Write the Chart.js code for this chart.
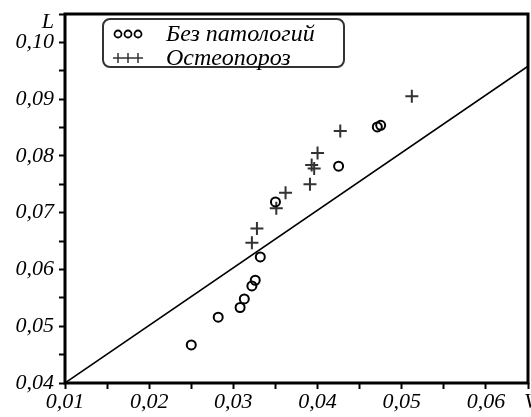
<!DOCTYPE html>
<html>
<head>
<meta charset="utf-8">
<script src="https://cdn.jsdelivr.net/npm/chart.js@4/dist/chart.umd.min.js"></script>
<style>
  html, body { margin: 0; padding: 0; background: #fff; }
  #wrap { width: 531px; height: 417px; }
</style>
</head>
<body>
<div id="wrap"><canvas id="chartVL"></canvas></div>
<script>
// Без патологий (circles)
const normV = [0.0250, 0.0282, 0.0308, 0.0313, 0.0322, 0.0326, 0.0332, 0.0350, 0.0425, 0.0471, 0.0475];
const normL = [0.0467, 0.0516, 0.0533, 0.0548, 0.0571, 0.0581, 0.0622, 0.0719, 0.0782, 0.0851, 0.0854];
// Остеопороз (crosses)
const osteoV = [0.0322, 0.0328, 0.0351, 0.0362, 0.0391, 0.0393, 0.0396, 0.0400, 0.0427, 0.0512];
const osteoL = [0.0647, 0.0672, 0.0708, 0.0735, 0.0750, 0.0784, 0.0778, 0.0805, 0.0844, 0.0905];
// dividing line
const lineV = [0.01, 0.065];
const lineL = [0.04, 0.0958];

const xTickValues = [0.01, 0.015, 0.02, 0.025, 0.03, 0.035, 0.04, 0.045, 0.05, 0.055, 0.06, 0.065];
const xTickLabels = ["0,01", "", "0,02", "", "0,03", "", "0,04", "", "0,05", "", "0,06", ""];
const yTickValues = [0.04, 0.045, 0.05, 0.055, 0.06, 0.065, 0.07, 0.075, 0.08, 0.085, 0.09, 0.095, 0.10, 0.105];
const yTickLabels = ["0,04", "", "0,05", "", "0,06", "", "0,07", "", "0,08", "", "0,09", "", "0,10", ""];
const xTitle = "V", yTitle = "L";

const toPts = (xs, ys) => xs.map((v, i) => ({ x: v, y: ys[i] }));
const tickFont = { family: "'Liberation Serif', serif", style: "italic", size: 22 };

const framePlugin = {
  id: "frame",
  afterDatasetsDraw(chart) {
    const { ctx, chartArea: a } = chart;
    ctx.save();
    ctx.strokeStyle = "#000";
    ctx.lineWidth = 3;
    ctx.strokeRect(a.left, a.top, a.right - a.left, a.bottom - a.top);
    ctx.restore();
  },
  afterDraw(chart) {
    const { ctx, chartArea: a } = chart;
    ctx.save();
    ctx.fillStyle = "#000";
    ctx.font = "italic 22px 'Liberation Serif', serif";
    ctx.textAlign = "right";
    ctx.textBaseline = "alphabetic";
    ctx.fillText(yTitle, a.left - 11, a.top + 14);
    ctx.textAlign = "left";
    ctx.fillText(xTitle, a.right - 4, a.bottom + 25);

    // legend box
    const bx = 103, by = 19, bw = 241, bh = 48;
    ctx.lineWidth = 2;
    ctx.strokeStyle = "#333";
    ctx.beginPath();
    ctx.roundRect(bx, by, bw, bh, 7);
    ctx.stroke();
    ctx.font = "italic 24px 'Liberation Serif', serif";
    const rows = [
      { ds: chart.data.datasets[0], y: by + 15 },
      { ds: chart.data.datasets[1], y: by + 39 }
    ];
    rows.forEach(r => {
      const isCross = r.ds.pointStyle === "cross";
      for (let k = 0; k < 3; k++) {
        ctx.fillStyle = "rgba(0,0,0,0)";
        ctx.strokeStyle = r.ds.borderColor;
        ctx.lineWidth = isCross ? 1.5 : 1.8;
        Chart.helpers.drawPoint(ctx, {
          pointStyle: r.ds.pointStyle,
          radius: isCross ? 5 : 3.5,
          borderWidth: ctx.lineWidth
        }, bx + 15 + k * 10, r.y);
      }
      ctx.fillStyle = "#000";
      ctx.textAlign = "left";
      ctx.textBaseline = "middle";
      ctx.fillText(r.ds.label, bx + 63, r.y + 1);
    });
    ctx.restore();
  }
};

new Chart(document.getElementById("chartVL"), {
  type: "scatter",
  data: {
    datasets: [
      {
        label: "Без патологий",
        data: toPts(normV, normL),
        pointStyle: "circle",
        pointRadius: 4.5,
        borderWidth: 2,
        borderColor: "#000",
        backgroundColor: "rgba(0,0,0,0)"
      },
      {
        label: "Остеопороз",
        data: toPts(osteoV, osteoL),
        pointStyle: "cross",
        pointRadius: 6.5,
        borderWidth: 2,
        borderColor: "#333",
        backgroundColor: "#333"
      },
      {
        type: "line",
        label: "line",
        data: toPts(lineV, lineL),
        borderColor: "#000",
        borderWidth: 1.5,
        pointRadius: 0,
        fill: false
      }
    ]
  },
  options: {
    responsive: true,
    maintainAspectRatio: false,
    animation: false,
    events: [],
    layout: { autoPadding: false, padding: { left: 0, top: 14, right: 3, bottom: 0 } },
    plugins: { legend: { display: false }, tooltip: { enabled: false } },
    scales: {
      x: {
        type: "linear",
        min: 0.01,
        max: 0.065,
        afterBuildTicks: s => { s.ticks = xTickValues.map(v => ({ value: v })); },
        afterFit: s => { s.height = 34; s.paddingLeft = 0; s.paddingRight = 0; },
        ticks: {
          autoSkip: false,
          maxRotation: 0,
          color: "#000",
          font: tickFont,
          padding: 0,
          callback: (v, i) => xTickLabels[i]
        },
        grid: { drawOnChartArea: false, drawTicks: true, tickLength: 6, tickWidth: 2, tickColor: "#000" },
        border: { display: false }
      },
      y: {
        type: "linear",
        min: 0.04,
        max: 0.105,
        afterBuildTicks: s => { s.ticks = yTickValues.map(v => ({ value: v })); },
        afterFit: s => { s.width = 65; s.paddingTop = 0; s.paddingBottom = 0; },
        ticks: {
          autoSkip: false,
          color: "#000",
          font: tickFont,
          padding: 5,
          callback: (v, i) => yTickLabels[i]
        },
        grid: { drawOnChartArea: false, drawTicks: true, tickLength: 6, tickWidth: 2, tickColor: "#000" },
        border: { display: false }
      }
    }
  },
  plugins: [framePlugin]
});
</script>
</body>
</html>
